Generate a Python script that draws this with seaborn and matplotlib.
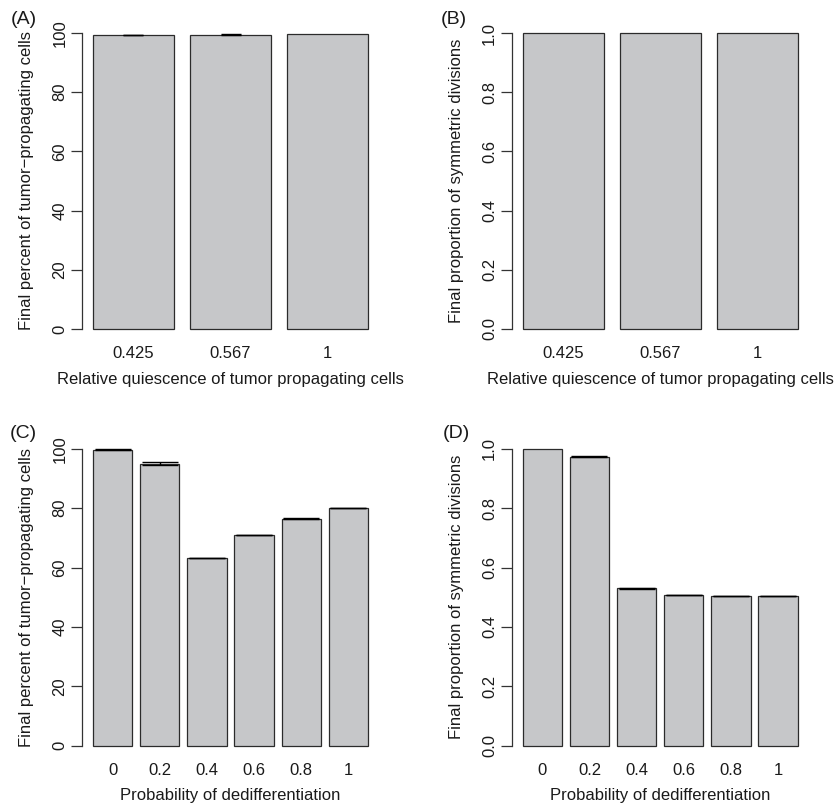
import numpy as np
import pandas as pd
import matplotlib
matplotlib.use("Agg")
import matplotlib.pyplot as plt
import seaborn as sns

# Panel (A)/(B): relative quiescence of tumour-propagating cells
quiescence = ["0.425", "0.567", "1"]
pct_tpc_quiescence = [99.3, 99.5, 99.7]
pct_tpc_quiescence_err = [0.12, 0.10, 0.0]
sym_div_quiescence = [0.9995, 0.9997, 0.9998]
sym_div_quiescence_err = [0.0, 0.0, 0.0]

# Panel (C)/(D): probability of dedifferentiation
dediff = ["0", "0.2", "0.4", "0.6", "0.8", "1"]
pct_tpc_dediff = [99.7, 95.0, 63.3, 70.9, 76.5, 80.1]
pct_tpc_dediff_err = [0.10, 0.45, 0.08, 0.06, 0.08, 0.10]
sym_div_dediff = [1.0, 0.974, 0.530, 0.508, 0.504, 0.504]
sym_div_dediff_err = [0.0, 0.003, 0.002, 0.001, 0.001, 0.001]

ylab_pct = "Final percent of tumor\u2212propagating cells"
ylab_sym = "Final proportion of symmetric divisions"
xlab_q = "Relative quiescence of tumor propagating cells"
xlab_d = "Probability of dedifferentiation"

sns.set_theme(style="white")
plt.rcParams["font.family"] = ["Liberation Sans", "DejaVu Sans"]

W, H = 835, 807
fig = plt.figure(figsize=(W / 100, H / 100), dpi=100)

BAR_FILL = "#c6c7c9"
EDGE = "#2b2b2b"
TXT = "#1a1a1a"
FS = 12


def px_axes(left, right, top, bottom):
    return fig.add_axes([left / W, 1 - bottom / H, (right - left) / W, (bottom - top) / H])


def panel(ax, cats, vals, errs, yticks, ytl, ymax, ylabel, xlabel, cap):
    n = len(cats)
    df = pd.DataFrame({"x": cats, "y": vals})
    sns.barplot(data=df, x="x", y="y", ax=ax, color=BAR_FILL, saturation=1,
                width=1 / 1.2, edgecolor=EDGE, linewidth=0.9, errorbar=None)
    errs = np.asarray(errs)
    pos = np.arange(n)
    m = errs > 0
    if m.any():
        ax.errorbar(pos[m], np.asarray(vals)[m], yerr=errs[m], fmt="none",
                    ecolor="black", elinewidth=1.0, capsize=cap, capthick=1.0, zorder=5)
    span = 1.2 * n - 0.2
    ext = 0.04 * span
    lo = (0.2 - ext - 0.7) / 1.2
    hi = (0.2 + span + ext - 0.7) / 1.2
    ax.set_xlim(lo, hi)
    ax.set_ylim(-0.04 * ymax, 1.04 * ymax)
    for s in ["top", "right", "bottom"]:
        ax.spines[s].set_visible(False)
    ax.spines["left"].set_bounds(yticks[0], yticks[-1])
    ax.spines["left"].set_color("#333333")
    ax.spines["left"].set_linewidth(0.9)
    ax.set_yticks(yticks)
    ax.set_yticklabels(ytl, rotation=90, va="center", fontsize=FS, color=TXT)
    ax.tick_params(axis="y", length=8, width=0.9, color="#333333", pad=2.5, left=True)
    ax.tick_params(axis="x", length=0, pad=4)
    ax.set_xticks(pos)
    ax.set_xticklabels(cats, fontsize=FS, color=TXT)
    ax.set_xlabel(xlabel, fontsize=FS, color=TXT, labelpad=7.5)
    ax.set_ylabel(ylabel, fontsize=FS, color=TXT)
    ax.yaxis.set_label_coords(-0.16, 0.5)
    ax.patch.set_alpha(0)


axA = px_axes(82, 379, 21.2, 340.8)
axB = px_axes(511.7, 808.7, 21.2, 340.8)
axC = px_axes(82, 379, 437, 757.4)
axD = px_axes(511.7, 808.7, 437, 757.4)

pct_ticks = [0, 20, 40, 60, 80, 100]
pct_tl = ["0", "20", "40", "60", "80", "100"]
sym_ticks = [0.0, 0.2, 0.4, 0.6, 0.8, 1.0]
sym_tl = ["0.0", "0.2", "0.4", "0.6", "0.8", "1.0"]

panel(axA, quiescence, pct_tpc_quiescence, pct_tpc_quiescence_err, pct_ticks, pct_tl, 100,
      ylab_pct, xlab_q, 7.2)
panel(axB, quiescence, sym_div_quiescence, sym_div_quiescence_err, sym_ticks, sym_tl, 1.0,
      ylab_sym, xlab_q, 7.2)
panel(axC, dediff, pct_tpc_dediff, pct_tpc_dediff_err, pct_ticks, pct_tl, 100,
      ylab_pct, xlab_d, 13.3)
panel(axD, dediff, sym_div_dediff, sym_div_dediff_err, sym_ticks, sym_tl, 1.0,
      ylab_sym, xlab_d, 13.3)

for lab, x, y in [("(A)", 23.5, 19), ("(B)", 454, 19), ("(C)", 23, 433), ("(D)", 456, 433)]:
    fig.text(x / W, 1 - y / H, lab, fontsize=14, ha="center", va="center", color=TXT)

fig.savefig("out.png", dpi=100, facecolor="white")
